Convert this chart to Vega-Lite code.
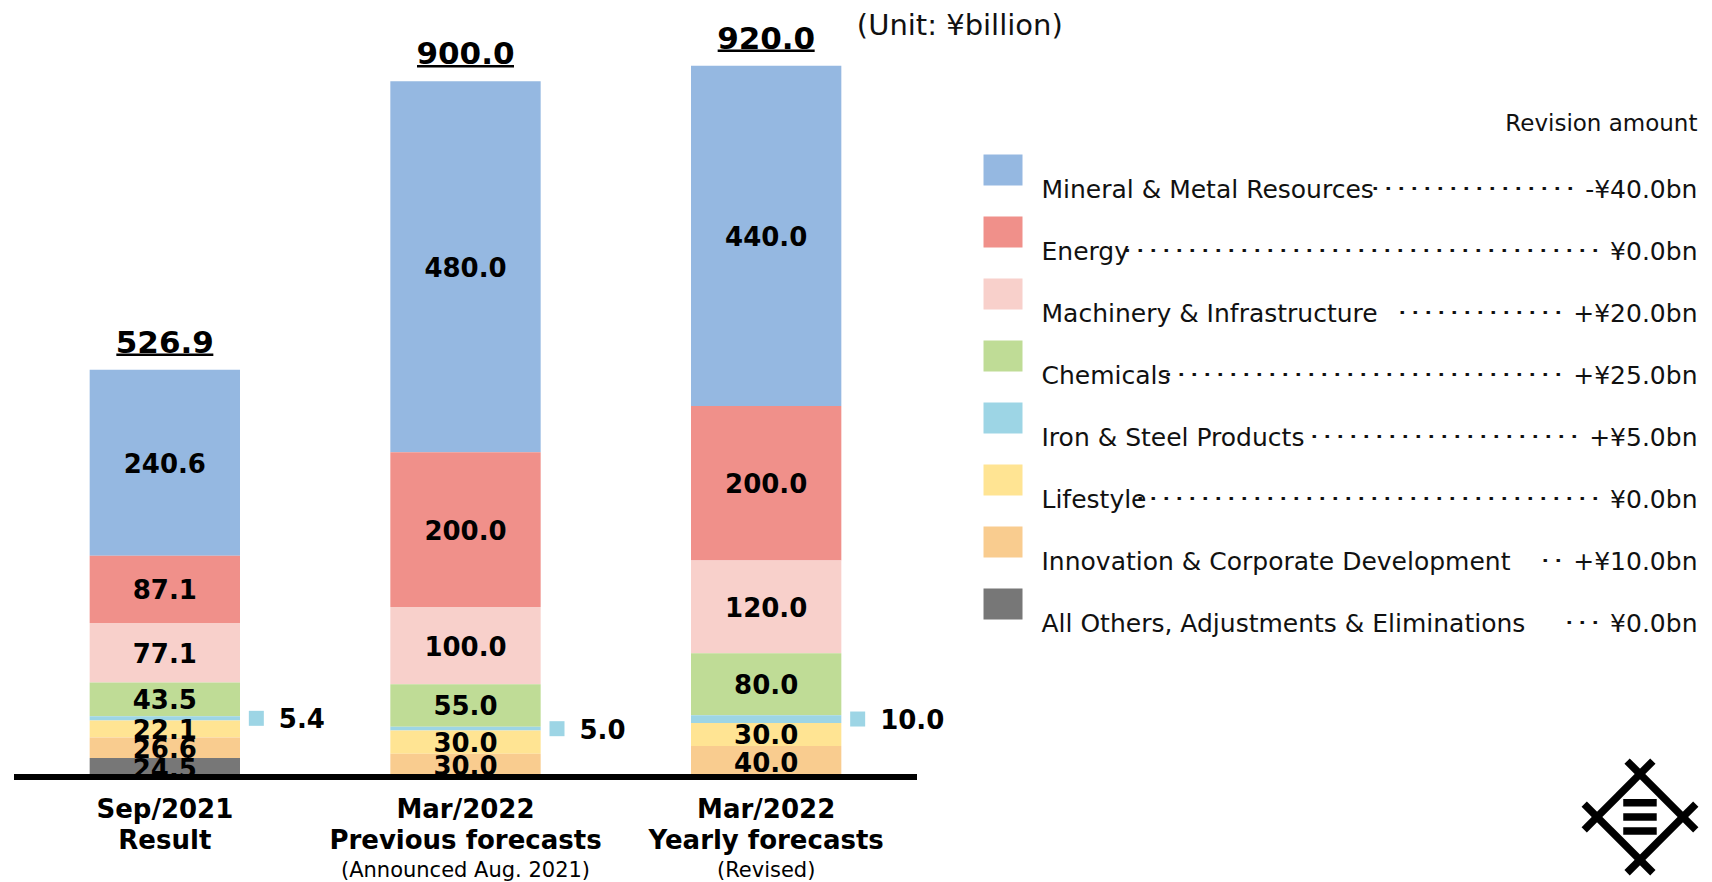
{
  "$schema": "https://vega.github.io/schema/vega-lite/v6.json",
  "padding": {"left": 11.5, "top": 4, "right": 0, "bottom": 0},
  "spacing": 0,
  "bounds": "flush",
  "config": {"view": {"stroke": null}, "font": "DejaVu Sans", "text": {"font": "DejaVu Sans"}, "axis": {"labelFont": "DejaVu Sans"}},
  "hconcat": [
    {
      "width": 902,
      "height": 773,
      "data": {"values": [
        {"period": "Sep/2021|Result", "segment": "Mineral & Metal Resources", "value": 240.6},
        {"period": "Sep/2021|Result", "segment": "Energy", "value": 87.1},
        {"period": "Sep/2021|Result", "segment": "Machinery & Infrastructure", "value": 77.1},
        {"period": "Sep/2021|Result", "segment": "Chemicals", "value": 43.5},
        {"period": "Sep/2021|Result", "segment": "Iron & Steel Products", "value": 5.4},
        {"period": "Sep/2021|Result", "segment": "Lifestyle", "value": 22.1},
        {"period": "Sep/2021|Result", "segment": "Innovation & Corporate Development", "value": 26.6},
        {"period": "Sep/2021|Result", "segment": "All Others, Adjustments & Eliminations", "value": 24.5},
        {"period": "Mar/2022|Previous forecasts", "segment": "Mineral & Metal Resources", "value": 480.0},
        {"period": "Mar/2022|Previous forecasts", "segment": "Energy", "value": 200.0},
        {"period": "Mar/2022|Previous forecasts", "segment": "Machinery & Infrastructure", "value": 100.0},
        {"period": "Mar/2022|Previous forecasts", "segment": "Chemicals", "value": 55.0},
        {"period": "Mar/2022|Previous forecasts", "segment": "Iron & Steel Products", "value": 5.0},
        {"period": "Mar/2022|Previous forecasts", "segment": "Lifestyle", "value": 30.0},
        {"period": "Mar/2022|Previous forecasts", "segment": "Innovation & Corporate Development", "value": 30.0},
        {"period": "Mar/2022|Previous forecasts", "segment": "All Others, Adjustments & Eliminations", "value": 0.0},
        {"period": "Mar/2022|Yearly forecasts", "segment": "Mineral & Metal Resources", "value": 440.0},
        {"period": "Mar/2022|Yearly forecasts", "segment": "Energy", "value": 200.0},
        {"period": "Mar/2022|Yearly forecasts", "segment": "Machinery & Infrastructure", "value": 120.0},
        {"period": "Mar/2022|Yearly forecasts", "segment": "Chemicals", "value": 80.0},
        {"period": "Mar/2022|Yearly forecasts", "segment": "Iron & Steel Products", "value": 10.0},
        {"period": "Mar/2022|Yearly forecasts", "segment": "Lifestyle", "value": 30.0},
        {"period": "Mar/2022|Yearly forecasts", "segment": "Innovation & Corporate Development", "value": 40.0},
        {"period": "Mar/2022|Yearly forecasts", "segment": "All Others, Adjustments & Eliminations", "value": 0.0}
      ]},
      "transform": [
        {"calculate": "indexof(['All Others, Adjustments & Eliminations','Innovation & Corporate Development','Lifestyle','Iron & Steel Products','Chemicals','Machinery & Infrastructure','Energy','Mineral & Metal Resources'], datum.segment)", "as": "ord"},
        {"stack": "value", "groupby": ["period"], "sort": [{"field": "ord", "order": "ascending"}], "as": ["v0", "v1"]},
        {"calculate": "(datum.v0 + datum.v1) / 2", "as": "mid"}
      ],
      "layer": [
        {
          "mark": {"type": "bar"},
          "encoding": {
            "x": {"field": "period", "type": "nominal", "sort": null, "scale": {"domain": ["Sep/2021|Result", "Mar/2022|Previous forecasts", "Mar/2022|Yearly forecasts"], "paddingInner": 0.5, "paddingOuter": 0.25}, "axis": {"title": null, "domain": false, "ticks": false, "tickSize": 0, "grid": false, "labelAngle": 0, "labelFont": "DejaVu Sans", "labelFontSize": 26, "labelFontWeight": "bold", "labelColor": "#000000", "labelLineHeight": 31, "labelPadding": 19, "labelLimit": 600, "labelExpr": "split(datum.label, '|')"}},
            "y": {"field": "v1", "type": "quantitative", "scale": {"domain": [0, 1000], "nice": false, "zero": false}, "axis": null},
            "y2": {"field": "v0"},
            "color": {"field": "segment", "type": "nominal", "scale": {"domain": ["Mineral & Metal Resources", "Energy", "Machinery & Infrastructure", "Chemicals", "Iron & Steel Products", "Lifestyle", "Innovation & Corporate Development", "All Others, Adjustments & Eliminations"], "range": ["#95B8E1", "#F0908A", "#F8D0CB", "#BFDC96", "#9DD5E5", "#FFE493", "#F9CC8F", "#777777"]}, "legend": null}
          }
        },
        {
          "mark": {"type": "rule", "strokeWidth": 5, "color": "#000000"},
          "encoding": {
            "y": {"datum": 0, "type": "quantitative", "scale": {"domain": [0, 1000], "nice": false, "zero": false}, "axis": null}
          }
        },
        {
          "transform": [{"filter": "datum.value > 0 && datum.segment !== 'Iron & Steel Products'"}],
          "mark": {"type": "text", "fontSize": 26, "fontWeight": "bold", "color": "#000000", "baseline": "middle", "dy": 2},
          "encoding": {
            "x": {"field": "period", "type": "nominal", "sort": null, "scale": {"domain": ["Sep/2021|Result", "Mar/2022|Previous forecasts", "Mar/2022|Yearly forecasts"], "paddingInner": 0.5, "paddingOuter": 0.25}, "axis": {"title": null, "domain": false, "ticks": false, "tickSize": 0, "grid": false, "labelAngle": 0, "labelFont": "DejaVu Sans", "labelFontSize": 26, "labelFontWeight": "bold", "labelColor": "#000000", "labelLineHeight": 31, "labelPadding": 19, "labelLimit": 600, "labelExpr": "split(datum.label, '|')"}},
            "y": {"field": "mid", "type": "quantitative", "scale": {"domain": [0, 1000], "nice": false, "zero": false}, "axis": null},
            "text": {"field": "value", "type": "quantitative", "format": ".1f"}
          }
        },
        {
          "transform": [{"filter": "datum.segment === 'Iron & Steel Products'"}],
          "mark": {"type": "point", "shape": "square", "filled": true, "size": 225, "opacity": 1, "xOffset": 91.5, "color": "#9DD5E5"},
          "encoding": {
            "x": {"field": "period", "type": "nominal", "sort": null, "scale": {"domain": ["Sep/2021|Result", "Mar/2022|Previous forecasts", "Mar/2022|Yearly forecasts"], "paddingInner": 0.5, "paddingOuter": 0.25}, "axis": {"title": null, "domain": false, "ticks": false, "tickSize": 0, "grid": false, "labelAngle": 0, "labelFont": "DejaVu Sans", "labelFontSize": 26, "labelFontWeight": "bold", "labelColor": "#000000", "labelLineHeight": 31, "labelPadding": 19, "labelLimit": 600, "labelExpr": "split(datum.label, '|')"}},
            "y": {"field": "mid", "type": "quantitative", "scale": {"domain": [0, 1000], "nice": false, "zero": false}, "axis": null}
          }
        },
        {
          "transform": [{"filter": "datum.segment === 'Iron & Steel Products'"}],
          "mark": {"type": "text", "align": "left", "baseline": "middle", "dx": 114, "dy": 2, "fontSize": 26, "fontWeight": "bold", "color": "#000000"},
          "encoding": {
            "x": {"field": "period", "type": "nominal", "sort": null, "scale": {"domain": ["Sep/2021|Result", "Mar/2022|Previous forecasts", "Mar/2022|Yearly forecasts"], "paddingInner": 0.5, "paddingOuter": 0.25}, "axis": {"title": null, "domain": false, "ticks": false, "tickSize": 0, "grid": false, "labelAngle": 0, "labelFont": "DejaVu Sans", "labelFontSize": 26, "labelFontWeight": "bold", "labelColor": "#000000", "labelLineHeight": 31, "labelPadding": 19, "labelLimit": 600, "labelExpr": "split(datum.label, '|')"}},
            "y": {"field": "mid", "type": "quantitative", "scale": {"domain": [0, 1000], "nice": false, "zero": false}, "axis": null},
            "text": {"field": "value", "type": "quantitative", "format": ".1f"}
          }
        },
        {
          "mark": {"type": "tick", "orient": "horizontal", "size": 97, "thickness": 2.5, "color": "#000000", "opacity": 1, "yOffset": -15},
          "encoding": {
            "x": {"field": "period", "type": "nominal", "sort": null, "scale": {"domain": ["Sep/2021|Result", "Mar/2022|Previous forecasts", "Mar/2022|Yearly forecasts"], "paddingInner": 0.5, "paddingOuter": 0.25}, "axis": {"title": null, "domain": false, "ticks": false, "tickSize": 0, "grid": false, "labelAngle": 0, "labelFont": "DejaVu Sans", "labelFontSize": 26, "labelFontWeight": "bold", "labelColor": "#000000", "labelLineHeight": 31, "labelPadding": 19, "labelLimit": 600, "labelExpr": "split(datum.label, '|')"}},
            "y": {"aggregate": "sum", "field": "value", "type": "quantitative", "scale": {"domain": [0, 1000], "nice": false, "zero": false}, "axis": null}
          }
        },
        {
          "mark": {"type": "text", "fontSize": 31, "fontWeight": "bold", "color": "#000000", "baseline": "alphabetic", "dy": -17},
          "encoding": {
            "x": {"field": "period", "type": "nominal", "sort": null, "scale": {"domain": ["Sep/2021|Result", "Mar/2022|Previous forecasts", "Mar/2022|Yearly forecasts"], "paddingInner": 0.5, "paddingOuter": 0.25}, "axis": {"title": null, "domain": false, "ticks": false, "tickSize": 0, "grid": false, "labelAngle": 0, "labelFont": "DejaVu Sans", "labelFontSize": 26, "labelFontWeight": "bold", "labelColor": "#000000", "labelLineHeight": 31, "labelPadding": 19, "labelLimit": 600, "labelExpr": "split(datum.label, '|')"}},
            "y": {"aggregate": "sum", "field": "value", "type": "quantitative", "scale": {"domain": [0, 1000], "nice": false, "zero": false}, "axis": null},
            "text": {"aggregate": "sum", "field": "value", "type": "quantitative", "format": ".1f"}
          }
        },
        {
          "data": {"values": [
            {"period": "Mar/2022|Previous forecasts", "note": "(Announced Aug. 2021)"},
            {"period": "Mar/2022|Yearly forecasts", "note": "(Revised)"}
          ]},
          "mark": {"type": "text", "fontSize": 21, "color": "#000000", "baseline": "alphabetic"},
          "encoding": {
            "x": {"field": "period", "type": "nominal", "sort": null, "scale": {"domain": ["Sep/2021|Result", "Mar/2022|Previous forecasts", "Mar/2022|Yearly forecasts"], "paddingInner": 0.5, "paddingOuter": 0.25}, "axis": {"title": null, "domain": false, "ticks": false, "tickSize": 0, "grid": false, "labelAngle": 0, "labelFont": "DejaVu Sans", "labelFontSize": 26, "labelFontWeight": "bold", "labelColor": "#000000", "labelLineHeight": 31, "labelPadding": 19, "labelLimit": 600, "labelExpr": "split(datum.label, '|')"}},
            "y": {"datum": -129.4, "type": "quantitative", "scale": {"domain": [0, 1000], "nice": false, "zero": false}, "axis": null},
            "text": {"field": "note"}
          }
        }
      ]
    },
    {
      "width": 796,
      "height": 773,
      "resolve": {"scale": {"y": "independent"}},
      "layer": [
        {
          "data": {"values": [
            {"segment": "Mineral & Metal Resources", "rev": "････････････････ -¥40.0bn"},
            {"segment": "Energy", "rev": "･････････････････････････････････････ ¥0.0bn"},
            {"segment": "Machinery & Infrastructure", "rev": "･････････････ +¥20.0bn"},
            {"segment": "Chemicals", "rev": "･･･････････････････････････････ +¥25.0bn"},
            {"segment": "Iron & Steel Products", "rev": "･････････････････････ +¥5.0bn"},
            {"segment": "Lifestyle", "rev": "････････････････････････････････････ ¥0.0bn"},
            {"segment": "Innovation & Corporate Development", "rev": "･･ +¥10.0bn"},
            {"segment": "All Others, Adjustments & Eliminations", "rev": "･･･   ¥0.0bn"}
          ]},
          "layer": [
            {
              "mark": {"type": "point", "shape": "M-1.258,-1H1.258V1H-1.258Z", "filled": true, "size": 961, "opacity": 1},
              "encoding": {
                "x": {"datum": -148.44, "type": "quantitative", "scale": {"domain": [-168.6, 16.9], "nice": false, "zero": false}, "axis": null},
                "y": {"field": "segment", "type": "nominal", "sort": null, "scale": {"type": "point", "range": [166, 600], "padding": 0}, "axis": null},
                "color": {"field": "segment", "type": "nominal", "scale": {"domain": ["Mineral & Metal Resources", "Energy", "Machinery & Infrastructure", "Chemicals", "Iron & Steel Products", "Lifestyle", "Innovation & Corporate Development", "All Others, Adjustments & Eliminations"], "range": ["#95B8E1", "#F0908A", "#F8D0CB", "#BFDC96", "#9DD5E5", "#FFE493", "#F9CC8F", "#777777"]}, "legend": null}
              }
            },
            {
              "mark": {"type": "text", "align": "left", "baseline": "middle", "dy": 20, "fontSize": 25, "color": "#111111"},
              "encoding": {
                "x": {"datum": -139.47, "type": "quantitative", "scale": {"domain": [-168.6, 16.9], "nice": false, "zero": false}, "axis": null},
                "y": {"field": "segment", "type": "nominal", "sort": null, "scale": {"type": "point", "range": [166, 600], "padding": 0}, "axis": null},
                "text": {"field": "segment"}
              }
            },
            {
              "mark": {"type": "text", "align": "right", "baseline": "middle", "dy": 20, "fontSize": 25, "color": "#111111"},
              "encoding": {
                "x": {"datum": 13.4, "type": "quantitative", "scale": {"domain": [-168.6, 16.9], "nice": false, "zero": false}, "axis": null},
                "y": {"field": "segment", "type": "nominal", "sort": null, "scale": {"type": "point", "range": [166, 600], "padding": 0}, "axis": null},
                "text": {"field": "rev"}
              }
            }
          ]
        },
        {
          "layer": [
            {
              "data": {"values": [
                {"x1": -3, "y1": 13, "x2": 13, "y2": -3},
                {"x1": 3, "y1": 13, "x2": -13, "y2": -3},
                {"x1": -3, "y1": -13, "x2": 13, "y2": 3},
                {"x1": 3, "y1": -13, "x2": -13, "y2": 3},
                {"x1": -3.9, "y1": 3.3, "x2": 3.9, "y2": 3.3},
                {"x1": -3.9, "y1": 0, "x2": 3.9, "y2": 0},
                {"x1": -3.9, "y1": -3.3, "x2": 3.9, "y2": -3.3}
              ]},
              "mark": {"type": "rule", "strokeWidth": 7.5, "color": "#000000", "strokeCap": "butt"},
              "encoding": {
                "x": {"field": "x1", "type": "quantitative", "scale": {"domain": [-168.6, 16.9], "nice": false, "zero": false}, "axis": null},
                "x2": {"field": "x2"},
                "y": {"field": "y1", "type": "quantitative", "scale": {"domain": [9.3, 189.3], "nice": false, "zero": false}, "axis": null},
                "y2": {"field": "y2"}
              }
            },
            {
              "data": {"values": [{"t": "Revision amount"}]},
              "mark": {"type": "text", "align": "right", "baseline": "middle", "fontSize": 23, "color": "#111111"},
              "encoding": {
                "x": {"datum": 13.4, "type": "quantitative", "scale": {"domain": [-168.6, 16.9], "nice": false, "zero": false}, "axis": null},
                "y": {"datum": 161.4, "type": "quantitative", "scale": {"domain": [9.3, 189.3], "nice": false, "zero": false}, "axis": null},
                "text": {"field": "t"}
              }
            },
            {
              "data": {"values": [{"t": "(Unit: ¥billion)"}]},
              "mark": {"type": "text", "align": "left", "baseline": "middle", "fontSize": 29, "color": "#111111"},
              "encoding": {
                "x": {"datum": -182.5, "type": "quantitative", "scale": {"domain": [-168.6, 16.9], "nice": false, "zero": false}, "axis": null},
                "y": {"datum": 184.2, "type": "quantitative", "scale": {"domain": [9.3, 189.3], "nice": false, "zero": false}, "axis": null},
                "text": {"field": "t"}
              }
            }
          ]
        }
      ]
    }
  ]
}
